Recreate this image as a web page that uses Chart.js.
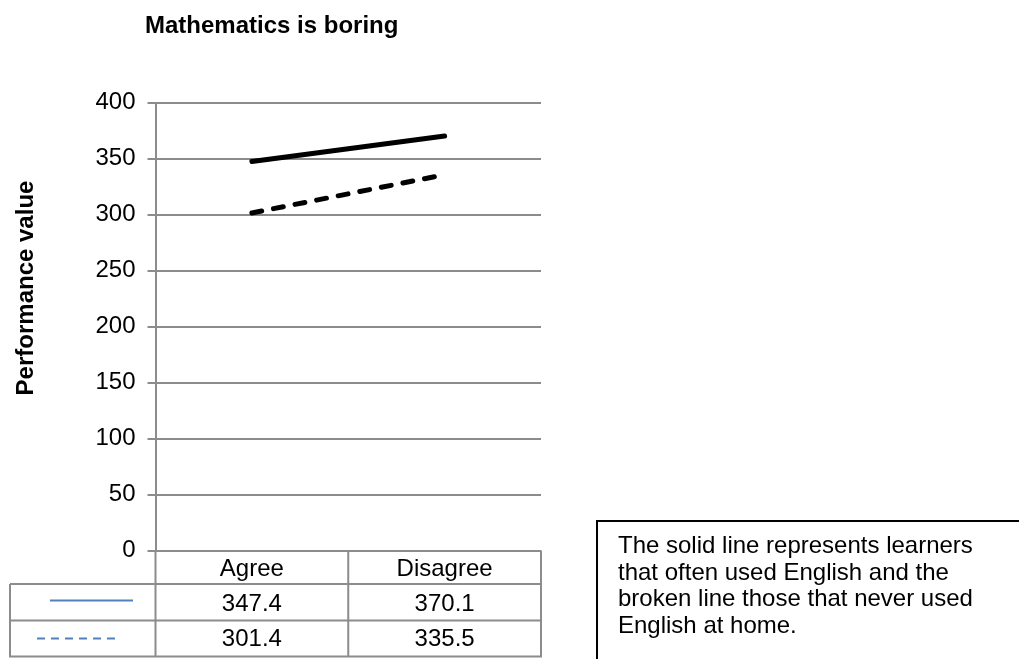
<!DOCTYPE html>
<html>
<head>
<meta charset="utf-8">
<title>Mathematics is boring</title>
<script src="https://cdn.jsdelivr.net/npm/chart.js@4/dist/chart.umd.min.js"></script>
<style>
  html, body { margin: 0; padding: 0; background: #ffffff; }
  #wrap { position: relative; width: 1019px; height: 659px; overflow: hidden; }
  canvas { display: block; }
</style>
</head>
<body>
<div id="wrap"><canvas id="chart" width="1019" height="659"></canvas></div>
<script>
// ---- data ----
const categories = ['Agree', 'Disagree'];
const oftenEnglish = [347.4, 370.1];   // solid line
const neverEnglish = [301.4, 335.5];   // broken line
const yTicks = [0, 50, 100, 150, 200, 250, 300, 350, 400];
const chartTitle = 'Mathematics is boring';
const yTitle = 'Performance value';
const noteLines = [
  'The solid line represents learners',
  'that often used English and the',
  'broken line those that never used',
  'English at home.'
];

const FONT = '"Liberation Sans", Arial, Helvetica, sans-serif';
const GRID = '#8c8c8c';
const LEGEND_BLUE = '#4f81bd';

// Title, rotated axis title, data table under the plot and the note box
const decorations = {
  id: 'decorations',
  afterDraw(chart) {
    const ctx = chart.ctx;
    const area = chart.chartArea;
    const x = chart.scales.x;
    ctx.save();

    // chart title
    ctx.fillStyle = '#000';
    ctx.font = 'bold 24px ' + FONT;
    ctx.textAlign = 'left';
    ctx.textBaseline = 'alphabetic';
    ctx.fillText(chartTitle, 145, 33);

    // vertical axis title
    ctx.save();
    ctx.translate(33, 288);
    ctx.rotate(-Math.PI / 2);
    ctx.textAlign = 'center';
    ctx.fillText(yTitle, 0, 0);
    ctx.restore();

    // data table
    const top = area.bottom;
    const headBottom = top + 33.5;
    const row1Bottom = headBottom + 36.5;
    const row2Bottom = row1Bottom + 36;
    const tableLeft = 10;
    const colSplit = (x.getPixelForValue(0) + x.getPixelForValue(1)) / 2;

    ctx.strokeStyle = GRID;
    ctx.lineWidth = 2;
    ctx.beginPath();
    [headBottom, row1Bottom, row2Bottom].forEach(y => {
      ctx.moveTo(tableLeft, y); ctx.lineTo(area.right, y);
    });
    ctx.moveTo(tableLeft, headBottom); ctx.lineTo(tableLeft, row2Bottom + 1);
    [area.left, colSplit, area.right].forEach(px => {
      ctx.moveTo(px, top); ctx.lineTo(px, row2Bottom + 1);
    });
    ctx.stroke();

    ctx.fillStyle = '#000';
    ctx.font = '24px ' + FONT;
    ctx.textAlign = 'center';
    categories.forEach((c, i) => {
      const cx = x.getPixelForValue(i);
      ctx.fillText(c, cx, top + 25);
      ctx.fillText(oftenEnglish[i].toFixed(1), cx, headBottom + 26.5);
      ctx.fillText(neverEnglish[i].toFixed(1), cx, row1Bottom + 25);
    });

    // legend keys in the table
    ctx.strokeStyle = LEGEND_BLUE;
    ctx.lineWidth = 2;
    ctx.beginPath();
    ctx.moveTo(50, headBottom + 16.5); ctx.lineTo(133, headBottom + 16.5);
    ctx.stroke();
    ctx.setLineDash([8, 6]);
    ctx.beginPath();
    ctx.moveTo(37, row1Bottom + 18); ctx.lineTo(116, row1Bottom + 18);
    ctx.stroke();
    ctx.setLineDash([]);

    // note box
    ctx.strokeStyle = '#000';
    ctx.lineWidth = 2;
    ctx.beginPath();
    ctx.moveTo(597, 680); ctx.lineTo(597, 521); ctx.lineTo(1030, 521);
    ctx.stroke();
    ctx.fillStyle = '#000';
    ctx.textAlign = 'left';
    noteLines.forEach((t, i) => ctx.fillText(t, 618, 553 + i * 26.7));

    ctx.restore();
  }
};

new Chart(document.getElementById('chart'), {
  type: 'line',
  data: {
    labels: categories,
    datasets: [
      {
        label: 'often',
        data: oftenEnglish,
        borderColor: '#000',
        borderWidth: 5,
        borderCapStyle: 'round',
        pointRadius: 0,
        fill: false,
        tension: 0
      },
      {
        label: 'never',
        data: neverEnglish,
        borderColor: '#000',
        borderWidth: 5,
        borderDash: [10, 12],
        borderCapStyle: 'round',
        pointRadius: 0,
        fill: false,
        tension: 0
      }
    ]
  },
  options: {
    responsive: false,
    animation: false,
    events: [],
    layout: { padding: { left: 0, top: 102.5, right: 478, bottom: 108.5 } },
    plugins: {
      legend: { display: false },
      title: { display: false },
      tooltip: { enabled: false }
    },
    scales: {
      x: {
        type: 'category',
        display: false,
        offset: true
      },
      y: {
        min: 0,
        max: 400,
        afterFit(scale) { scale.width = 155.5; },
        afterBuildTicks(scale) { scale.ticks = yTicks.map(v => ({ value: v })); },
        border: { display: true, color: GRID, width: 2 },
        grid: { color: GRID, lineWidth: 2, tickLength: 8, drawTicks: true },
        ticks: {
          color: '#000',
          font: { family: FONT, size: 24 },
          padding: 12
        }
      }
    }
  },
  plugins: [decorations]
});
</script>
</body>
</html>
